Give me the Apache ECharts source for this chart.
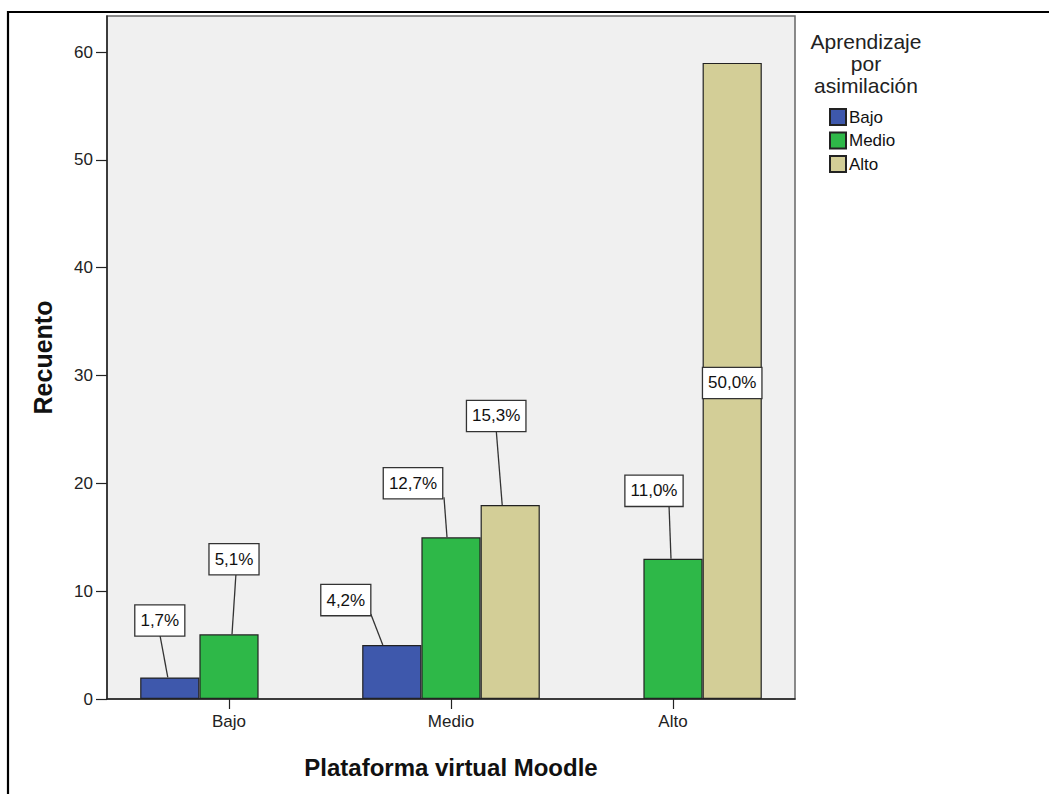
<!DOCTYPE html>
<html>
<head>
<meta charset="utf-8">
<script src="https://cdn.jsdelivr.net/npm/echarts@6/dist/echarts.min.js"></script>
<style>
html,body{margin:0;padding:0;background:#fff;}
#chart{width:1049px;height:794px;}
</style>
</head>
<body>
<div id="chart"></div>
<script>
// ---- Data ----
const categories = ['Bajo', 'Medio', 'Alto'];           // Plataforma virtual Moodle
const seriesNames = ['Bajo', 'Medio', 'Alto'];          // Aprendizaje por asimilación
const valuesBajo  = [2, 5, null];
const valuesMedio = [6, 15, 13];
const valuesAlto  = [null, 18, 59];
const pctBajo  = ['1,7%', '4,2%', null];
const pctMedio = ['5,1%', '12,7%', '11,0%'];
const pctAlto  = [null, '15,3%', '50,0%'];
const yTickLabels = [0, 10, 20, 30, 40, 50, 60];

// ---- Styles / layout (not data) ----
const colors = ['#3e58ac', '#2eb848', '#d3ce97'];
const FONT = '"Liberation Sans", Arial, sans-serif';
// callout box offsets relative to bar top centre: dx, dy; line top x offset (tx), line bar x offset (bx)
const calloutLayout = [
  [{dx: -10, dy: -57, tx: 0, bx: -2}, {dx: -46, dy: -45, tx: 25, bx: -9}, null],
  [{dx: 5, dy: -75, tx: 2, bx: 3}, {dx: -38, dy: -54, tx: 31, bx: -4}, {dx: -19, dy: -68, tx: 15, bx: -2}],
  [null, {dx: -14, dy: -89, tx: 0, bx: -8}, {inside: true, dx: 0, dy: 2}]
];

const allValues = [valuesBajo, valuesMedio, valuesAlto];
const allPct = [pctBajo, pctMedio, pctAlto];

const calloutData = [];
allValues.forEach((vals, s) => {
  vals.forEach((v, c) => {
    if (v !== null && allPct[s][c]) calloutData.push([c, v, s, allPct[s][c]]);
  });
});

const chart = echarts.init(document.getElementById('chart'), null, {renderer: 'svg'});

const barSeries = seriesNames.map((name, s) => ({
  name: name,
  type: 'bar',
  xAxisIndex: 1,
  yAxisIndex: 1,
  data: allValues[s],
  barGap: '0%',
  barCategoryGap: '20%',
  itemStyle: {color: colors[s], borderColor: '#222', borderWidth: 1.2},
  emphasis: {disabled: true}
}));

const option = {
  animation: false,
  textStyle: {fontFamily: FONT},
  grid: [
    {left: 107, right: 254, top: 16, bottom: 95, show: true, backgroundColor: '#f0f0f0',
     borderColor: '#666', borderWidth: 1.5, containLabel: false},
    {left: 118, right: 265, top: 16, bottom: 95, containLabel: false}
  ],
  xAxis: [
    {gridIndex: 0, type: 'category', data: [''], axisLabel: {show: false}, axisTick: {show: false},
     axisLine: {show: true, lineStyle: {color: '#222', width: 1.5}}, splitLine: {show: false}},
    {gridIndex: 1, type: 'category', data: categories,
     axisLine: {show: false},
     axisTick: {show: true, alignWithLabel: true, length: 10, lineStyle: {color: '#222', width: 1.2}},
     axisLabel: {fontSize: 17, color: '#222', margin: 14, fontFamily: FONT},
     name: 'Plataforma virtual Moodle', nameLocation: 'middle', nameGap: 56,
     nameTextStyle: {fontSize: 24, fontWeight: 'bold', color: '#111', fontFamily: FONT}}
  ],
  yAxis: [
    {gridIndex: 0, type: 'value', min: 0, max: 63.35, interval: 10,
     axisLine: {show: true, lineStyle: {color: '#222', width: 1.5}},
     axisTick: {show: true, length: 11, lineStyle: {color: '#222', width: 1.2}, customValues: yTickLabels},
     axisLabel: {fontSize: 17, color: '#222', margin: 14, fontFamily: FONT, customValues: yTickLabels},
     splitLine: {show: false},
     name: 'Recuento', nameLocation: 'middle', nameGap: 52,
     nameTextStyle: {fontSize: 25, fontWeight: 'bold', color: '#111', fontFamily: FONT}},
    {gridIndex: 1, type: 'value', min: 0, max: 63.35, interval: 10, show: false, splitLine: {show: false}}
  ],
  legend: {
    orient: 'vertical', left: 829, top: 108, padding: 0,
    itemWidth: 16, itemHeight: 16, itemGap: 5.5, icon: 'rect',
    data: seriesNames,
    textStyle: {fontSize: 17, color: '#111', lineHeight: 17, fontFamily: FONT, padding: [0, 0, 0, -2]},
    selectedMode: false
  },
  graphic: [
    {type: 'line', shape: {x1: 8, y1: 12, x2: 1049, y2: 12}, style: {stroke: '#000', lineWidth: 2.2}, z: 10},
    {type: 'line', shape: {x1: 8, y1: 11, x2: 8, y2: 794}, style: {stroke: '#000', lineWidth: 2.2}, z: 10},
    {type: 'text', x: 866, y: 30, z: 10,
     style: {text: 'Aprendizaje\npor\nasimilación', align: 'center', verticalAlign: 'top',
             fontSize: 21, lineHeight: 22, fontFamily: FONT, fill: '#222'}}
  ],
  series: barSeries.concat([{
    type: 'custom',
    name: 'callouts',
    xAxisIndex: 1,
    yAxisIndex: 1,
    z: 5,
    silent: true,
    data: calloutData,
    encode: {x: 0, y: 1},
    renderItem: function (params, api) {
      const c = api.value(0), v = api.value(1), s = api.value(2);
      const text = calloutData[params.dataIndex][3];
      const top = api.coord([c, v]);
      const base = api.coord([c, 0]);
      const band = api.size([1, 0])[0];
      const slot = band * 0.8 / 3;
      const bx = top[0] + (s - 1) * slot;
      const lay = calloutLayout[s][c];
      let cx, cy;
      const children = [];
      if (lay.inside) {
        cx = bx + lay.dx;
        cy = (top[1] + base[1]) / 2 + lay.dy;
      } else {
        cx = bx + lay.dx;
        cy = top[1] + lay.dy;
        children.push({type: 'line', shape: {x1: cx + lay.tx, y1: cy + 14, x2: bx + lay.bx, y2: top[1]},
                       style: {stroke: '#333', lineWidth: 1.3}});
      }
      children.push({type: 'text', x: cx, y: cy,
        style: {text: text, align: 'center', verticalAlign: 'middle', fill: '#111',
                fontSize: 17, fontFamily: FONT, lineHeight: 18,
                backgroundColor: '#fff', borderColor: '#333', borderWidth: 1.3, padding: [6, 5, 6, 5]}});
      return {type: 'group', children: children};
    }
  }])
};
chart.setOption(option);
</script>
</body>
</html>
